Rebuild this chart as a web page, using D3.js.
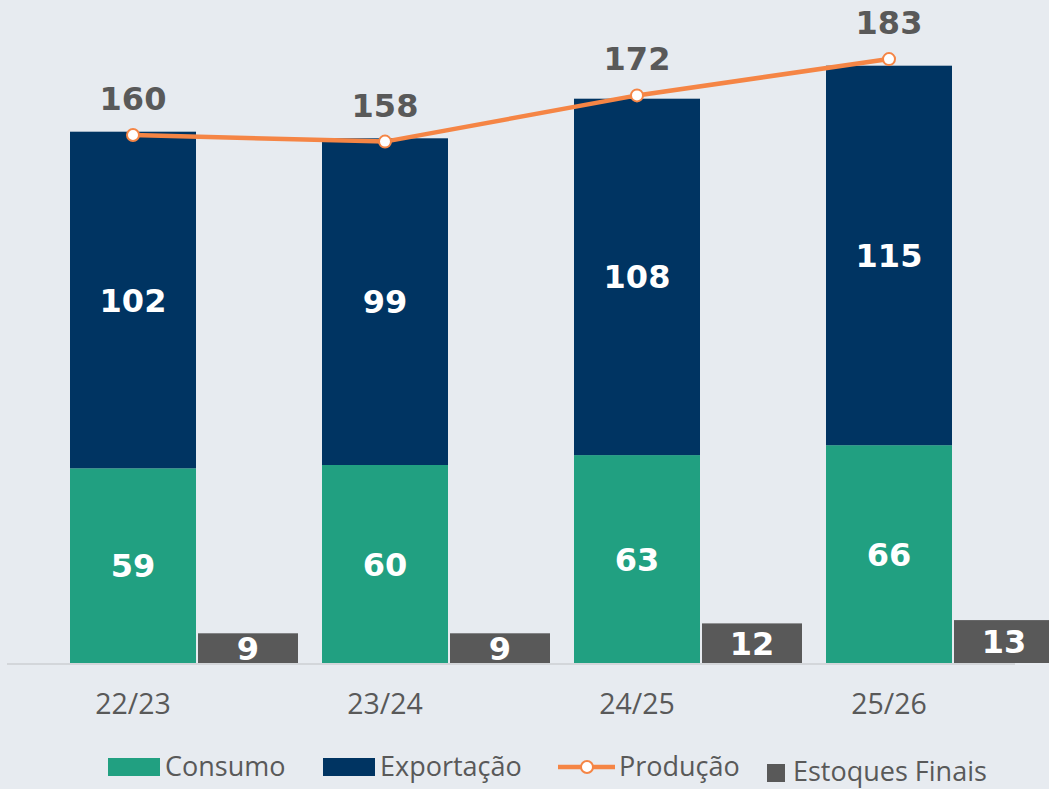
<!DOCTYPE html>
<html>
<head>
<meta charset="utf-8">
<script src="https://cdn.jsdelivr.net/npm/d3@7"></script>
<style>
    body { margin: 0; background: #e7ebf0; }
    #chart svg { display: block; }
</style>
</head>
<body>
<div id="chart"></div>
<script>
// data
var safras = ["22/23", "23/24", "24/25", "25/26"];
var consumo = [59, 60, 63, 66];
var exportacao = [102, 99, 108, 115];
var producao = [160, 158, 172, 183];
var estoques = [9, 9, 12, 13];

var width = 1049,
    height = 789;

var svg = d3.select("#chart").append("svg")
    .attr("width", width)
    .attr("height", height);

svg.append("rect")
    .attr("width", width)
    .attr("height", height)
    .attr("fill", "#e7ebf0");

// scales
var x = d3.scaleBand()
    .domain(safras)
    .range([7, 1015])
    .padding(0);

var y = d3.scaleLinear()
    .domain([0, 200])
    .range([663, 3]);

var step = x.step();
var barW = step * 0.5;
var estW = 100;

var numFont = "'DejaVu Sans', Verdana, sans-serif";
var txtFont = "'Open Sans', sans-serif";

// consumo bars
svg.selectAll(".consumo")
    .data(safras)
    .enter().append("rect")
    .attr("class", "consumo")
    .attr("x", function(d) { return x(d) + step * 0.25; })
    .attr("width", barW)
    .attr("y", function(d, i) { return y(consumo[i]); })
    .attr("height", function(d, i) { return y(0) - y(consumo[i]); })
    .attr("fill", "#21a081");

// exportacao bars, stacked on consumo
svg.selectAll(".exportacao")
    .data(safras)
    .enter().append("rect")
    .attr("class", "exportacao")
    .attr("x", function(d) { return x(d) + step * 0.25; })
    .attr("width", barW)
    .attr("y", function(d, i) { return y(consumo[i] + exportacao[i]); })
    .attr("height", function(d, i) { return y(consumo[i]) - y(consumo[i] + exportacao[i]); })
    .attr("fill", "#003462");

// estoques bars
svg.selectAll(".estoques")
    .data(safras)
    .enter().append("rect")
    .attr("class", "estoques")
    .attr("x", function(d) { return x(d) + step * 0.25 + barW + 2; })
    .attr("width", estW)
    .attr("y", function(d, i) { return y(estoques[i]); })
    .attr("height", function(d, i) { return y(0) - y(estoques[i]); })
    .attr("fill", "#595959");

// baseline
svg.append("line")
    .attr("x1", x.range()[0])
    .attr("x2", x.range()[1])
    .attr("y1", y(0) + 1)
    .attr("y2", y(0) + 1)
    .attr("stroke", "#d3d6da")
    .attr("stroke-width", 2);

// x axis labels
var xAxis = svg.append("g")
    .attr("transform", "translate(0," + (y(0) + 31) + ")")
    .call(d3.axisBottom(x).tickSize(0).tickPadding(0));
xAxis.select(".domain").remove();
xAxis.selectAll("text")
    .attr("font-family", txtFont)
    .attr("font-size", 28.5)
    .attr("fill", "#595959");

// bar labels
svg.selectAll(".lblConsumo")
    .data(safras)
    .enter().append("text")
    .attr("x", function(d) { return x(d) + step / 2; })
    .attr("y", function(d, i) { return (y(0) + y(consumo[i])) / 2; })
    .attr("dy", ".36em")
    .attr("text-anchor", "middle")
    .style("font-family", numFont)
    .style("font-weight", "bold")
    .style("font-size", "32px")
    .style("fill", "#ffffff")
    .text(function(d, i) { return consumo[i]; });

svg.selectAll(".lblExport")
    .data(safras)
    .enter().append("text")
    .attr("x", function(d) { return x(d) + step / 2; })
    .attr("y", function(d, i) { return (y(consumo[i]) + y(consumo[i] + exportacao[i])) / 2; })
    .attr("dy", ".36em")
    .attr("text-anchor", "middle")
    .style("font-family", numFont)
    .style("font-weight", "bold")
    .style("font-size", "32px")
    .style("fill", "#ffffff")
    .text(function(d, i) { return exportacao[i]; });

svg.selectAll(".lblEst")
    .data(safras)
    .enter().append("text")
    .attr("x", function(d) { return x(d) + step * 0.25 + barW + 2 + estW / 2; })
    .attr("y", function(d, i) { return (y(0) + y(estoques[i])) / 2; })
    .attr("dy", ".36em")
    .attr("text-anchor", "middle")
    .style("font-family", numFont)
    .style("font-weight", "bold")
    .style("font-size", "32px")
    .style("fill", "#ffffff")
    .text(function(d, i) { return estoques[i]; });

// producao line
var line = d3.line()
    .x(function(d, i) { return x(safras[i]) + step / 2; })
    .y(function(d) { return y(d); });

svg.append("path")
    .datum(producao)
    .attr("d", line)
    .attr("fill", "none")
    .attr("stroke", "#f58545")
    .attr("stroke-width", 4.5);

svg.selectAll(".pt")
    .data(producao)
    .enter().append("circle")
    .attr("cx", function(d, i) { return x(safras[i]) + step / 2; })
    .attr("cy", function(d) { return y(d); })
    .attr("r", 6)
    .attr("fill", "#ffffff")
    .attr("stroke", "#f58545")
    .attr("stroke-width", 2);

svg.selectAll(".lblProd")
    .data(producao)
    .enter().append("text")
    .attr("x", function(d, i) { return x(safras[i]) + step / 2; })
    .attr("y", function(d) { return y(d) - 25; })
    .attr("text-anchor", "middle")
    .style("font-family", numFont)
    .style("font-weight", "bold")
    .style("font-size", "32px")
    .style("fill", "#595959")
    .text(function(d) { return d; });

// legend
var leg = svg.append("g").attr("font-family", txtFont).attr("font-size", 27).attr("fill", "#595959");

leg.append("rect").attr("x", 108).attr("y", 758).attr("width", 52).attr("height", 18).attr("fill", "#21a081");
leg.append("text").attr("x", 165).attr("y", 776).text("Consumo");

leg.append("rect").attr("x", 323).attr("y", 758).attr("width", 52).attr("height", 18).attr("fill", "#003462");
leg.append("text").attr("x", 380).attr("y", 776).text("Exportação");

leg.append("line").attr("x1", 558).attr("x2", 615).attr("y1", 767).attr("y2", 767)
    .attr("stroke", "#f58545").attr("stroke-width", 4.5);
leg.append("circle").attr("cx", 587).attr("cy", 767).attr("r", 6)
    .attr("fill", "#ffffff").attr("stroke", "#f58545").attr("stroke-width", 2);
leg.append("text").attr("x", 619).attr("y", 776).text("Produção");

leg.append("rect").attr("x", 767).attr("y", 764).attr("width", 18).attr("height", 18).attr("fill", "#595959");
leg.append("text").attr("x", 793).attr("y", 781).text("Estoques Finais");
</script>
</body>
</html>
